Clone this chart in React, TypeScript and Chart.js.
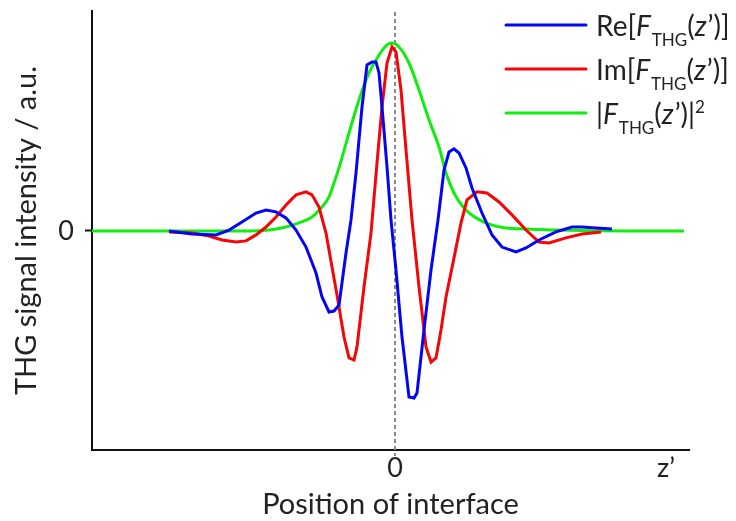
import React, { useEffect, useRef } from 'react';
import { Chart, registerables } from 'chart.js';

Chart.register(...registerables);

// Position of interface (a.u.) and THG signal (a.u., |F|^2 peak = 100)
const reX = [-22.6, -20.3, -17.9, -16.6, -15.3, -13.9, -12.9, -11.9, -10.9, -9.9, -8.9, -7.9, -7.3, -6.6, -6.1, -5.6, -4.9, -4.4, -3.9, -3.3, -2.8, -2.3, -1.9, -1.6, -1.3, -0.8, -0.4, 0.1, 0.7, 1.4, 1.9, 2.2, 2.9, 3.6, 4.3, 4.9, 5.4, 5.9, 6.4, 7.1, 7.7, 8.7, 9.7, 10.7, 12.1, 13.1, 14.4, 16.1, 17.7, 18.7, 20.1, 21.7];
const reY = [0, -1.6, -2.1, 0.5, 4.8, 9.6, 11.2, 10.2, 7.0, 0.5, -8.6, -22.5, -35.3, -43.3, -42.8, -39.6, -11.8, 5.9, 31.0, 66.3, 88.8, 90.4, 90.4, 84.5, 66.3, 34.2, 5.9, -20.9, -56.7, -88.8, -89.3, -86.6, -52.9, -20.9, 5.9, 32.6, 42.2, 43.9, 41.7, 33.7, 23.0, 9.6, -2.1, -8.6, -11.2, -9.1, -4.8, -0.5, 2.1, 2.1, 1.6, 1.1];

const imX = [-22.6, -20.3, -18.6, -17.3, -15.9, -14.9, -13.9, -12.9, -11.9, -10.9, -9.9, -8.9, -8.3, -7.6, -6.9, -6.3, -5.8, -5.1, -4.6, -4.1, -3.8, -3.1, -2.4, -1.8, -1.3, -0.8, -0.3, 0.1, 0.6, 1.1, 1.7, 2.4, 3.1, 3.6, 4.1, 4.6, 5.1, 5.9, 6.6, 7.2, 8.2, 9.2, 10.4, 11.7, 13.1, 14.4, 15.4, 17.1, 18.7, 20.6];
const imY = [-0.5, -1.1, -2.7, -4.8, -5.9, -5.3, -2.1, 2.1, 7.5, 13.9, 19.3, 20.9, 19.3, 12.8, -1.1, -19.3, -34.2, -56.7, -67.9, -69.0, -62.0, -29.9, -1.1, 36.4, 66.3, 89.8, 98.4, 95.7, 75.4, 43.3, 5.9, -29.9, -62.0, -70.1, -67.9, -52.9, -35.3, -14.4, 4.3, 16.6, 20.9, 20.3, 15.5, 8.6, 0.5, -5.9, -6.4, -3.7, -1.6, -0.5];

const absX = [-30.3, -14.6, -12.6, -10.9, -9.6, -8.3, -7.3, -6.6, -6.1, -5.6, -4.6, -3.6, -2.6, -1.6, -0.8, -0.3, 0.4, 1.4, 2.4, 3.4, 4.4, 5.1, 5.9, 6.9, 8.1, 9.4, 11.1, 13.1, 16.1, 23.4, 28.9];
const absY = [0, 0, 0.5, 2.1, 4.3, 7.5, 12.8, 18.2, 25.7, 33.7, 52.4, 70.1, 84.5, 94.1, 99.5, 100.5, 98.4, 89.8, 75.4, 59.4, 44.9, 31.0, 20.3, 12.3, 7.0, 3.7, 1.6, 1.1, 0.5, 0, 0];

const xTickValues = [0, 27.1];
const xTickLabels = ['0', 'z\u2019'];
const yTickValues = [0];
const yTickLabels = ['0'];
const xTitle = 'Position of interface';
const yTitle = 'THG signal intensity / a.u.';

type Seg = { t: string; s: 'n' | 'i' | 'sub' | 'sup' };
const legendRe: Seg[] = [{ t: 'Re[', s: 'n' }, { t: 'F', s: 'i' }, { t: 'THG', s: 'sub' }, { t: '(', s: 'n' }, { t: 'z', s: 'i' }, { t: '\u2019)]', s: 'n' }];
const legendIm: Seg[] = [{ t: 'Im[', s: 'n' }, { t: 'F', s: 'i' }, { t: 'THG', s: 'sub' }, { t: '(', s: 'n' }, { t: 'z', s: 'i' }, { t: '\u2019)]', s: 'n' }];
const legendAbs: Seg[] = [{ t: '|', s: 'n' }, { t: 'F', s: 'i' }, { t: 'THG', s: 'sub' }, { t: '(', s: 'n' }, { t: 'z', s: 'i' }, { t: '\u2019)|', s: 'n' }, { t: '2', s: 'sup' }];

const BLUE = '#0505f5';
const RED = '#f50505';
const GREEN = '#10ee10';
const TEXT = '#222222';
const FONT = 'Lato, "Open Sans", sans-serif';

const zip = (xs: number[], ys: number[]) => xs.map((x, i) => ({ x, y: ys[i] }));

export default function App() {
  const ref = useRef<HTMLCanvasElement | null>(null);
  useEffect(() => {
    if (!ref.current) return;
    const legendItems = [
      { segs: legendRe, color: BLUE },
      { segs: legendIm, color: RED },
      { segs: legendAbs, color: GREEN },
    ];
    const overlay = {
      id: 'overlay',
      beforeDatasetsDraw(chart: any) {
        const { ctx, chartArea, scales } = chart;
        const x = Math.round(scales.x.getPixelForValue(0));
        ctx.save();
        ctx.strokeStyle = '#8a8a8a';
        ctx.lineWidth = 2;
        ctx.setLineDash([4, 3]);
        ctx.beginPath();
        ctx.moveTo(x, chartArea.top + 1);
        ctx.lineTo(x, chartArea.bottom + 6);
        ctx.stroke();
        ctx.restore();
      },
      afterDraw(chart: any) {
        const { ctx } = chart;
        ctx.save();
        legendItems.forEach((item, i) => {
          const ly = 25 + i * 44;
          ctx.strokeStyle = item.color;
          ctx.lineWidth = 3;
          ctx.lineCap = 'round';
          ctx.beginPath();
          ctx.moveTo(506, ly);
          ctx.lineTo(586, ly);
          ctx.stroke();
          let x = 596;
          const base = ly + 11;
          ctx.fillStyle = TEXT;
          ctx.textBaseline = 'alphabetic';
          ctx.textAlign = 'left';
          item.segs.forEach((sg) => {
            let y = base;
            if (sg.s === 'n') ctx.font = `28px ${FONT}`;
            else if (sg.s === 'i') ctx.font = `italic 28px ${FONT}`;
            else if (sg.s === 'sub') { ctx.font = `17px ${FONT}`; y = base + 10; }
            else { ctx.font = `17px ${FONT}`; y = base - 11; }
            ctx.fillText(sg.t, x, y);
            x += ctx.measureText(sg.t).width + (sg.s === 'i' ? 1 : 0);
          });
        });
        ctx.restore();
      },
    };

    const chart = new Chart(ref.current, {
      type: 'line',
      data: {
        datasets: [
          { label: 'Re', data: zip(reX, reY), borderColor: BLUE, borderWidth: 3, pointRadius: 0, tension: 0 },
          { label: 'Im', data: zip(imX, imY), borderColor: RED, borderWidth: 3, pointRadius: 0, tension: 0 },
          { label: 'Abs2', data: zip(absX, absY), borderColor: GREEN, borderWidth: 3, pointRadius: 0, cubicInterpolationMode: 'monotone' },
        ],
      },
      options: {
        responsive: false,
        animation: false,
        layout: { padding: { top: 11, right: 47, left: 0, bottom: 0 } },
        plugins: { legend: { display: false }, tooltip: { enabled: false } },
        scales: {
          x: {
            type: 'linear',
            min: -30.3,
            max: 29.4,
            afterBuildTicks: (s: any) => { s.ticks = xTickValues.map((v) => ({ value: v })); },
            afterFit: (s: any) => { s.height = 71; s.paddingLeft = 0; s.paddingRight = 0; },
            ticks: {
              color: TEXT,
              font: { family: FONT, size: 27, lineHeight: 0.9 },
              padding: 0,
              maxRotation: 0,
              autoSkip: false,
              callback: (v: any) => xTickLabels[xTickValues.indexOf(v)] ?? '',
            },
            grid: { display: true, drawOnChartArea: false, drawTicks: true, tickLength: 6, color: 'rgba(0,0,0,0)' },
            border: { display: true, color: '#111', width: 2 },
            title: { display: true, text: xTitle, color: TEXT, font: { family: FONT, size: 29, lineHeight: 1 }, padding: { top: 0, bottom: 2 } },
          },
          y: {
            type: 'linear',
            min: -117.1,
            max: 117.6,
            afterBuildTicks: (s: any) => { s.ticks = yTickValues.map((v) => ({ value: v })); },
            afterFit: (s: any) => { s.width = 92; s.paddingTop = 0; s.paddingBottom = 0; },
            ticks: {
              color: TEXT,
              font: { family: FONT, size: 27, lineHeight: 1 },
              padding: 11,
              autoSkip: false,
              callback: (v: any) => yTickLabels[yTickValues.indexOf(v)] ?? '',
            },
            grid: { display: true, drawOnChartArea: false, drawTicks: true, tickLength: 7, tickColor: '#111', tickWidth: 2, color: '#111' },
            border: { display: true, color: '#111', width: 2 },
            title: { display: true, text: yTitle, color: TEXT, font: { family: FONT, size: 29, lineHeight: 1 }, padding: { top: 12, bottom: 0 } },
          },
        },
      },
      plugins: [overlay],
    } as any);
    return () => chart.destroy();
  }, []);
  return (
    <div style={{ position: 'absolute', left: 0, top: 0, width: 736, height: 521, background: '#fff' }}>
      <canvas ref={ref} width={736} height={521} style={{ display: 'block', width: 736, height: 521 }} />
    </div>
  );
}
